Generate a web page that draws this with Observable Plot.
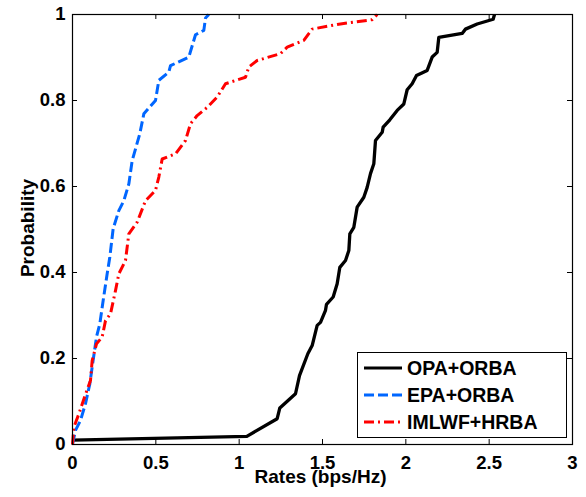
<!DOCTYPE html>
<html>
<head>
<meta charset="utf-8">
<script src="https://cdn.jsdelivr.net/npm/d3@7"></script>
<script src="https://cdn.jsdelivr.net/npm/@observablehq/plot@0.6"></script>
<style>
  body { margin: 0; background: #fff; font-family: "Liberation Sans", Arial, sans-serif; }
  #wrap { position: relative; width: 586px; height: 497px; }
  #legend { position: absolute; left: 357px; top: 352px; width: 210px; height: 86px; box-sizing: border-box;
            border: 1px solid #000; background: #fff; font-weight: bold; font-size: 19.5px; color: #000; }
  .row { position: absolute; left: 0; height: 26px; display: flex; align-items: center; white-space: nowrap; }
  .row svg { margin-left: 6px; margin-right: 5px; }
</style>
</head>
<body>
<div id="wrap"><div id="legend"></div></div>
<script>
// ---- data ----
const seriesNames = ["OPA+ORBA", "EPA+ORBA", "IMLWF+HRBA"];
const seriesColors = ["#000000", "#0066ff", "#ff0000"];
const seriesDash = [null, "10,4", "10,4,2,4"];

const opaX = [0, 1.046, 1.228, 1.244, 1.338, 1.362, 1.412, 1.438, 1.468, 1.488, 1.518, 1.524, 1.564, 1.588, 1.604, 1.638, 1.658, 1.664, 1.688, 1.708, 1.748, 1.768, 1.788, 1.808, 1.818, 1.858, 1.864, 1.904, 1.948, 1.988, 2.008, 2.038, 2.064, 2.128, 2.158, 2.188, 2.198, 2.338, 2.358, 2.428, 2.524, 2.532];
const opaP = [0.01, 0.019, 0.06, 0.085, 0.118, 0.16, 0.211, 0.23, 0.277, 0.284, 0.312, 0.326, 0.343, 0.374, 0.412, 0.428, 0.451, 0.49, 0.505, 0.552, 0.575, 0.598, 0.63, 0.653, 0.707, 0.726, 0.738, 0.755, 0.777, 0.792, 0.825, 0.839, 0.858, 0.87, 0.901, 0.912, 0.947, 0.956, 0.966, 0.978, 0.989, 1.0];

const epaX = [0, 0.018, 0.048, 0.078, 0.104, 0.118, 0.144, 0.164, 0.184, 0.208, 0.224, 0.244, 0.278, 0.308, 0.338, 0.358, 0.404, 0.428, 0.498, 0.518, 0.578, 0.588, 0.698, 0.738, 0.788, 0.798, 0.818];
const epaP = [0, 0.033, 0.056, 0.095, 0.141, 0.18, 0.25, 0.281, 0.335, 0.397, 0.436, 0.502, 0.544, 0.567, 0.606, 0.66, 0.723, 0.769, 0.8, 0.847, 0.866, 0.881, 0.901, 0.953, 0.963, 0.992, 1.0];

const imlX = [0, 0.008, 0.038, 0.072, 0.108, 0.118, 0.144, 0.178, 0.198, 0.228, 0.258, 0.278, 0.318, 0.338, 0.388, 0.438, 0.498, 0.518, 0.538, 0.618, 0.678, 0.708, 0.748, 0.808, 0.868, 0.918, 1.038, 1.058, 1.108, 1.248, 1.288, 1.388, 1.438, 1.588, 1.798, 1.828];
const imlP = [0, 0.04, 0.071, 0.11, 0.149, 0.195, 0.234, 0.25, 0.288, 0.304, 0.358, 0.397, 0.428, 0.49, 0.517, 0.567, 0.591, 0.622, 0.664, 0.676, 0.707, 0.746, 0.765, 0.784, 0.808, 0.839, 0.854, 0.878, 0.893, 0.909, 0.924, 0.94, 0.966, 0.977, 0.988, 1.0];

const xTicks = [0, 0.5, 1, 1.5, 2, 2.5, 3];
const yTicks = [0, 0.2, 0.4, 0.6, 0.8, 1];
const xLabel = "Rates (bps/Hz)";
const yLabel = "Probability";

// ---- build ----
const seriesX = [opaX, epaX, imlX];
const seriesP = [opaP, epaP, imlP];
const W = 586, H = 497, mL = 72, mR = 14, mT = 14, mB = 53;
const pw = W - mL - mR, ph = H - mT - mB;
const fmtX = d => String(d);
const fmtY = d => (d === 0 || d === 1) ? String(d) : d.toFixed(1);

const lineMarks = seriesNames.map((name, i) => {
  const rows = seriesX[i].map((x, j) => ({x, p: seriesP[i][j]}));
  return Plot.line(rows, {x: "x", y: "p", stroke: seriesColors[i], strokeWidth: i === 0 ? 3.3 : 3,
    strokeDasharray: seriesDash[i] || undefined, strokeLinecap: "butt", strokeLinejoin: "round"});
});

const chart = Plot.plot({
  width: W, height: H, marginLeft: mL, marginRight: mR, marginTop: mT, marginBottom: mB,
  style: {fontFamily: "'Liberation Sans', Arial, sans-serif", fontSize: "18.5px", fontWeight: "bold", color: "#000", background: "#fff"},
  x: {domain: [0, 3]},
  y: {domain: [0, 1]},
  marks: [
    Plot.axisX({ticks: xTicks, tickSize: 0, tickPadding: 11, tickFormat: fmtX, label: null, fontWeight: "bold", fontSize: 18.5}),
    Plot.axisY({ticks: yTicks, tickSize: 0, tickPadding: 7, tickFormat: fmtY, label: null, fontWeight: "bold", fontSize: 18.5}),
    Plot.tickY(yTicks, {y: d => d, insetRight: pw - 5, stroke: "#000"}),
    Plot.tickY(yTicks, {y: d => d, insetLeft: pw - 5, stroke: "#000"}),
    Plot.tickX(xTicks, {x: d => d, insetTop: ph - 5, stroke: "#000"}),
    Plot.tickX(xTicks, {x: d => d, insetBottom: ph - 5, stroke: "#000"}),
    ...lineMarks,
    Plot.frame({stroke: "#000", strokeWidth: 1.2}),
    Plot.text([xLabel], {frameAnchor: "bottom", dy: 38.7, dx: -2, lineAnchor: "bottom", textAnchor: "middle", fontSize: 19, fontWeight: "bold", fill: "#000"}),
    Plot.text([yLabel], {frameAnchor: "left", dx: -39, dy: -1.5, rotate: -90, lineAnchor: "bottom", textAnchor: "middle", fontSize: 19, fontWeight: "bold", fill: "#000", style: "letter-spacing:1.3px"})
  ]
});
document.getElementById("wrap").prepend(chart);

// legend
const legend = document.getElementById("legend");
seriesNames.forEach((name, i) => {
  const row = document.createElement("div");
  row.className = "row";
  row.style.top = (2 + i * 27) + "px";
  const dash = seriesDash[i] ? ` stroke-dasharray="${seriesDash[i]}"` : "";
  row.innerHTML = `<svg width="38" height="6"><line x1="0" y1="3" x2="38" y2="3" stroke="${seriesColors[i]}" stroke-width="3"${dash}/></svg><span>${name}</span>`;
  legend.appendChild(row);
});
</script>
</body>
</html>
